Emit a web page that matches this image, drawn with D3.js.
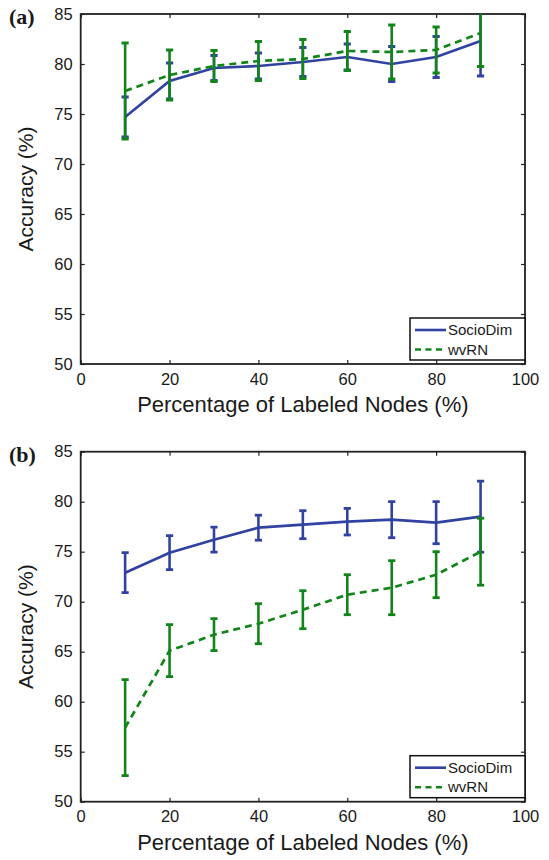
<!DOCTYPE html>
<html>
<head>
<meta charset="utf-8">
<script src="https://cdn.jsdelivr.net/npm/d3@7"></script>
<style>
  body { margin: 0; background: #fff; }
  text { font-family: "Liberation Sans", Arial, sans-serif; fill: #1a1a1a; }
</style>
</head>
<body>
<script>
const [W, H] = [549, 860];

// data
const pct = [10, 20, 30, 40, 50, 60, 70, 80, 90];
const xTicks = [0, 20, 40, 60, 80, 100];
const yTicks = [50, 55, 60, 65, 70, 75, 80, 85];
const seriesNames = ['SocioDim', 'wvRN'];

// panel (a)
const socioA = [74.7, 78.3, 79.6, 79.8, 80.2, 80.7, 80.0, 80.7, 82.3];
const socioErrA = [2.0, 1.8, 1.25, 1.3, 1.45, 1.3, 1.75, 2.05, 3.5];
const wvrnA = [77.3, 78.9, 79.8, 80.3, 80.5, 81.3, 81.2, 81.4, 83.1];
const wvrnErrA = [4.8, 2.5, 1.55, 1.95, 1.95, 1.95, 2.7, 2.3, 3.35];

// panel (b)
const socioB = [72.9, 74.9, 76.2, 77.4, 77.7, 78.0, 78.2, 77.9, 78.5];
const socioErrB = [2.0, 1.7, 1.25, 1.25, 1.4, 1.33, 1.8, 2.1, 3.55];
const wvrnB = [57.4, 65.1, 66.7, 67.8, 69.2, 70.7, 71.4, 72.7, 75.0];
const wvrnErrB = [4.8, 2.6, 1.6, 2.0, 1.9, 2.0, 2.7, 2.3, 3.35];

const colors = ['#3242a0', '#12851a'];

function drawPanel(svg, top, tag, series, id) {
    const left = 80.7, right = 525, bottom = top + 350;

    const x = d3.scaleLinear().domain([0, 100]).range([left, right]);
    const y = d3.scaleLinear().domain([50, 85]).range([bottom, top]);

    const g = svg.append('g');

    g.append('clipPath').attr('id', 'clip' + id)
        .append('rect')
        .attr('x', left).attr('y', top)
        .attr('width', right - left).attr('height', bottom - top);

    // axes, ticks inside, box all round
    const axStyle = sel => {
        sel.select('.domain').remove();
        sel.selectAll('line').attr('stroke', '#222').attr('stroke-width', 1.2);
        sel.selectAll('text').style('font-size', '16.5px').attr('fill', '#1a1a1a');
    };

    g.append('g')
        .attr('transform', 'translate(0,' + bottom + ')')
        .call(d3.axisBottom(x).tickValues(xTicks).tickSize(-4).tickPadding(9))
        .call(axStyle);
    g.append('g')
        .attr('transform', 'translate(0,' + top + ')')
        .call(d3.axisTop(x).tickValues(xTicks).tickSize(-4).tickFormat(''))
        .call(axStyle);
    g.append('g')
        .attr('transform', 'translate(' + left + ',0)')
        .call(d3.axisLeft(y).tickValues(yTicks).tickSize(-4).tickPadding(8))
        .call(axStyle);
    g.append('g')
        .attr('transform', 'translate(' + right + ',0)')
        .call(d3.axisRight(y).tickValues(yTicks).tickSize(-4).tickFormat(''))
        .call(axStyle);

    g.append('rect')
        .attr('x', left).attr('y', top)
        .attr('width', right - left).attr('height', bottom - top)
        .attr('fill', 'none').attr('stroke', '#222').attr('stroke-width', 1.8);

    // series
    const plot = g.append('g').attr('clip-path', 'url(#clip' + id + ')');
    series.forEach((s, k) => {
        const pts = pct.map((p, i) => ({ p: p, v: s.vals[i], e: s.errs[i] }));
        const c = colors[k];

        const bars = plot.append('g');
        bars.selectAll('line.bar').data(pts).enter()
            .append('line').attr('class', 'bar')
            .attr('x1', d => x(d.p)).attr('x2', d => x(d.p))
            .attr('y1', d => y(d.v - d.e)).attr('y2', d => y(d.v + d.e))
            .attr('stroke', c).attr('stroke-width', 2.6);
        [-1, 1].forEach(sgn => {
            bars.selectAll('line.cap' + (sgn + 1)).data(pts).enter()
                .append('line').attr('class', 'cap' + (sgn + 1))
                .attr('x1', d => x(d.p) - 3.6).attr('x2', d => x(d.p) + 3.6)
                .attr('y1', d => y(d.v + sgn * d.e)).attr('y2', d => y(d.v + sgn * d.e))
                .attr('stroke', c).attr('stroke-width', 2.8);
        });

        plot.append('path')
            .datum(pts)
            .attr('d', d3.line().x(d => x(d.p)).y(d => y(d.v)))
            .attr('fill', 'none')
            .attr('stroke', c)
            .attr('stroke-width', 2.7)
            .attr('stroke-dasharray', k === 1 ? '7,5' : null);
    });

    // legend
    const lg = g.append('g');
    lg.append('rect')
        .attr('x', 410).attr('y', bottom - 46)
        .attr('width', right - 410).attr('height', 42)
        .attr('fill', '#fff').attr('stroke', '#111').attr('stroke-width', 1.5);
    seriesNames.forEach((n, k) => {
        const ly = bottom - 34 + k * 19.5;
        lg.append('line')
            .attr('x1', 415).attr('x2', 446)
            .attr('y1', ly).attr('y2', ly)
            .attr('stroke', colors[k]).attr('stroke-width', 2.6)
            .attr('stroke-dasharray', k === 1 ? '6,4.5' : null);
        lg.append('text')
            .attr('x', 448).attr('y', ly).attr('dy', '0.35em')
            .style('font-size', '15px')
            .text(n);
    });

    // axis titles
    g.append('text')
        .attr('x', (left + right) / 2).attr('y', bottom + 48)
        .style('text-anchor', 'middle').style('font-size', '22px')
        .text('Percentage of Labeled Nodes (%)');
    g.append('text')
        .attr('transform', 'translate(33,' + ((top + bottom) / 2) + ') rotate(-90)')
        .style('text-anchor', 'middle').style('font-size', '21px')
        .text('Accuracy (%)');

    // panel tag
    g.append('text')
        .attr('x', 9).attr('y', top + 10)
        .style('font-family', '"Liberation Serif", "Times New Roman", serif')
        .style('font-weight', 'bold').style('font-size', '22px')
        .text(tag);
}

function main() {
    const svg = d3.select('body').append('svg')
        .attr('width', W).attr('height', H);

    drawPanel(svg, 14, '(a)', [
        { vals: socioA, errs: socioErrA },
        { vals: wvrnA, errs: wvrnErrA }
    ], 'a');

    drawPanel(svg, 451.7, '(b)', [
        { vals: socioB, errs: socioErrB },
        { vals: wvrnB, errs: wvrnErrB }
    ], 'b');
}

document.addEventListener('DOMContentLoaded', main);
</script>
</body>
</html>
